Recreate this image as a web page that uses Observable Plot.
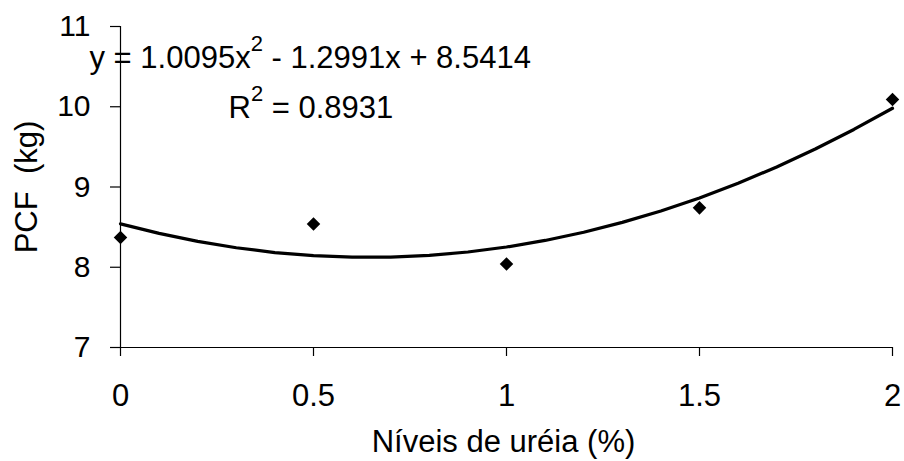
<!DOCTYPE html>
<html><head><meta charset="utf-8">
<script src="https://cdn.jsdelivr.net/npm/d3@7"></script>
<script src="https://cdn.jsdelivr.net/npm/@observablehq/plot@0.6"></script>
<style>
html,body{margin:0;padding:0;background:#fff;}
#chart{width:904px;height:461px;}
svg text{white-space:pre;}
</style></head><body><div id="chart"></div>
<script>
// Observed points
const ureaLevels = [0, 0.5, 1, 1.5, 2];
const pcfObserved = [8.37, 8.54, 8.04, 8.74, 10.09];
// Polynomial trend line
const trendX = [0, 0.1, 0.2, 0.3, 0.4, 0.5, 0.6, 0.7, 0.8, 0.9, 1.0, 1.1, 1.2, 1.3, 1.4, 1.5, 1.6, 1.7, 1.8, 1.9, 2.0];
const trendY = [8.541, 8.422, 8.322, 8.243, 8.183, 8.144, 8.125, 8.127, 8.148, 8.190, 8.252, 8.334, 8.436, 8.559, 8.701, 8.864, 9.047, 9.250, 9.474, 9.717, 9.981];
// Axes
const xTicks = [0, 0.5, 1, 1.5, 2];
const xTickLabels = ["0", "0.5", "1", "1.5", "2"];
const yTicks = [7, 8, 9, 10, 11];
const yTickLabels = ["7", "8", "9", "10", "11"];
const xTitle = "Níveis de uréia (%)";
const yTitle = "PCF  (kg)";
const equationText = "y = 1.0095x² - 1.2991x + 8.5414";
const r2Text = "R² = 0.8931";

const points = ureaLevels.map((x, i) => ({x, y: pcfObserved[i]}));
const trend = trendX.map((x, i) => ({x, y: trendY[i]}));

const FONT = "'Liberation Sans', Arial, Helvetica, sans-serif";

const chart = Plot.plot({
  width: 904,
  height: 461,
  marginLeft: 120,
  marginRight: 12,
  marginTop: 26,
  marginBottom: 114,
  style: {fontFamily: FONT, color: "#000", background: "#fff", overflow: "visible"},
  x: {domain: [0, 2]},
  y: {domain: [7, 11]},
  marks: [
    Plot.ruleX([0], {y1: 7, y2: 11, stroke: "#000", strokeWidth: 1.2}),
    Plot.ruleY([7], {x1: 0, x2: 2, stroke: "#000", strokeWidth: 1.2}),
    Plot.axisX({ticks: xTicks, tickFormat: (d) => xTickLabels[xTicks.indexOf(d)], tickSize: 9, tickPadding: 27, fontSize: 31, stroke: "#000", strokeWidth: 1.2, label: null}),
    Plot.axisY({ticks: yTicks, tickFormat: (d) => yTickLabels[yTicks.indexOf(d)], tickSize: 10, tickPadding: 20, fontSize: 30, stroke: "#000", strokeWidth: 1.2, label: null}),
    Plot.line(trend, {x: "x", y: "y", stroke: "#000", strokeWidth: 3.2, strokeLinejoin: "round"}),
    Plot.dot(points, {x: "x", y: "y", symbol: "diamond2", r: 6.1, fill: "#000", stroke: null}),
    Plot.text([equationText], {frameAnchor: "top-left", text: d => d, textAnchor: "start", lineAnchor: "bottom", dx: -31, dy: 41, fontSize: 31, fill: "#000"}),
    Plot.text([r2Text], {frameAnchor: "top-left", text: d => d, textAnchor: "start", lineAnchor: "bottom", dx: 108, dy: 91, fontSize: 31, fill: "#000"}),
    Plot.text([xTitle], {frameAnchor: "bottom", text: d => d, textAnchor: "middle", lineAnchor: "bottom", dx: -3, dy: 104, fontSize: 31, fill: "#000"}),
    Plot.text([yTitle], {frameAnchor: "left", text: d => d, rotate: -90, textAnchor: "middle", lineAnchor: "middle", dx: -93, fontSize: 31, fill: "#000"})
  ]
});

// Render superscripts as raised smaller digits
d3.select(chart).selectAll("text").each(function() {
  const t = this.textContent;
  if (!t.includes("²")) return;
  const parts = t.split("²");
  const sel = d3.select(this);
  sel.text(null);
  parts.forEach((p, i) => {
    if (i > 0) {
      sel.append("tspan").attr("dy", -17).attr("font-size", 22).text("2");
      sel.append("tspan").attr("dy", 17).text(p);
    } else {
      sel.append("tspan").text(p);
    }
  });
});

document.getElementById("chart").appendChild(chart);
</script>
</body></html>
